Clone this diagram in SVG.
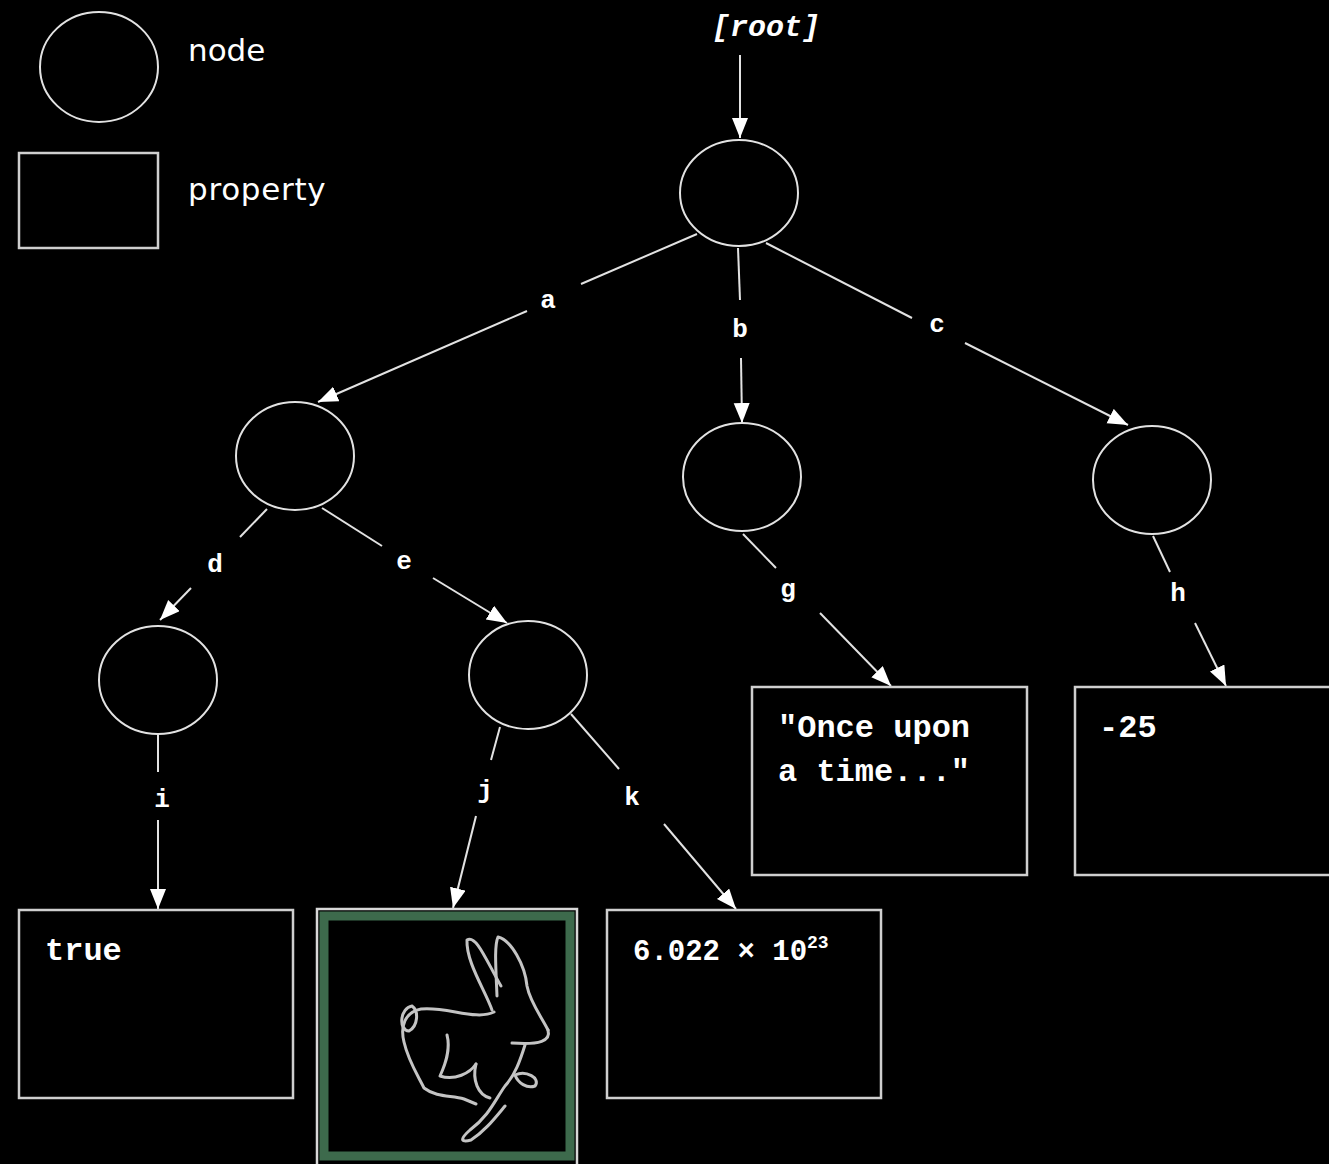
<svg xmlns="http://www.w3.org/2000/svg" width="1329" height="1164" viewBox="0 0 1329 1164">
  <style>
    .node { fill: #000; stroke: #e2e2e2; stroke-width: 2; }
    .prop { fill: #000; stroke: #cfcfcf; stroke-width: 2.5; }
    .edge { fill: none; stroke: #e2e2e2; stroke-width: 2; }
    .legend { font-family: "DejaVu Sans", Verdana, sans-serif; font-size: 31px; fill: #fff; }
    .lbl { font-family: "Liberation Mono", "Courier New", monospace; font-weight: bold; font-size: 26px; fill: #fff; text-anchor: middle; }
    .val { font-family: "Liberation Mono", "Courier New", monospace; font-weight: bold; font-size: 32px; fill: #fff; }
    .rabbit { fill: none; stroke: #c4c4c4; stroke-width: 3; stroke-linecap: round; stroke-linejoin: round; }
  </style>
  <defs>
    <marker id="arrow" markerUnits="userSpaceOnUse" markerWidth="22" markerHeight="18" refX="20" refY="8" orient="auto">
      <path d="M0,0 L20,8 L0,16 z" fill="#fff"/>
    </marker>
  </defs>
  <rect width="1329" height="1164" fill="#000"/>

  <!-- legend -->
  <g id="legend">
    <ellipse class="node" cx="99" cy="67" rx="59" ry="55"/>
    <text class="legend" x="188" y="61">node</text>
    <rect class="prop" x="19" y="153" width="139" height="95"/>
    <text class="legend" x="188" y="200" style="letter-spacing:0.7px">property</text>
  </g>

  <!-- connectors -->
  <g id="connectors">
    <line class="edge" x1="740" y1="55" x2="740" y2="138" marker-end="url(#arrow)"/>
    <!-- a -->
    <line class="edge" x1="697" y1="234" x2="581" y2="284"/>
    <line class="edge" x1="527" y1="311" x2="318" y2="402" marker-end="url(#arrow)"/>
    <text class="lbl" x="548" y="308">a</text>
    <!-- b -->
    <line class="edge" x1="738" y1="248" x2="740" y2="300"/>
    <line class="edge" x1="741" y1="358" x2="742" y2="423" marker-end="url(#arrow)"/>
    <text class="lbl" x="740" y="337">b</text>
    <!-- c -->
    <line class="edge" x1="766" y1="243" x2="912" y2="318"/>
    <line class="edge" x1="965" y1="343" x2="1128" y2="425" marker-end="url(#arrow)"/>
    <text class="lbl" x="937" y="332">c</text>
    <!-- d -->
    <line class="edge" x1="267" y1="509" x2="240" y2="537"/>
    <line class="edge" x1="191" y1="588" x2="160" y2="620" marker-end="url(#arrow)"/>
    <text class="lbl" x="215" y="572">d</text>
    <!-- e -->
    <line class="edge" x1="322" y1="508" x2="382" y2="546"/>
    <line class="edge" x1="433" y1="578" x2="507" y2="623" marker-end="url(#arrow)"/>
    <text class="lbl" x="404" y="569">e</text>
    <!-- g -->
    <line class="edge" x1="743" y1="534" x2="776" y2="568"/>
    <line class="edge" x1="820" y1="613" x2="891" y2="686" marker-end="url(#arrow)"/>
    <text class="lbl" x="788" y="597">g</text>
    <!-- h -->
    <line class="edge" x1="1153" y1="536" x2="1170" y2="572"/>
    <line class="edge" x1="1195" y1="623" x2="1226" y2="686" marker-end="url(#arrow)"/>
    <text class="lbl" x="1178" y="601">h</text>
    <!-- i -->
    <line class="edge" x1="158" y1="735" x2="158" y2="772"/>
    <line class="edge" x1="158" y1="820" x2="158" y2="909" marker-end="url(#arrow)"/>
    <text class="lbl" x="162" y="807">i</text>
    <!-- j -->
    <line class="edge" x1="500" y1="727" x2="491" y2="760"/>
    <line class="edge" x1="476" y1="816" x2="453" y2="908" marker-end="url(#arrow)"/>
    <text class="lbl" x="485" y="798">j</text>
    <!-- k -->
    <line class="edge" x1="571" y1="714" x2="619" y2="769"/>
    <line class="edge" x1="664" y1="824" x2="736" y2="909" marker-end="url(#arrow)"/>
    <text class="lbl" x="632" y="805">k</text>
  </g>

  <text id="root-label" x="766" y="36" text-anchor="middle" font-family="Liberation Mono, 'Courier New', monospace" font-weight="bold" font-style="italic" font-size="30" fill="#fff">[root]</text>

  <!-- nodes -->
  <g id="node-root"><ellipse class="node" cx="739" cy="193" rx="59" ry="53"/></g>
  <g id="node-a"><ellipse class="node" cx="295" cy="456" rx="59" ry="54"/></g>
  <g id="node-b"><ellipse class="node" cx="742" cy="477" rx="59" ry="54"/></g>
  <g id="node-c"><ellipse class="node" cx="1152" cy="480" rx="59" ry="54"/></g>
  <g id="node-d"><ellipse class="node" cx="158" cy="680" rx="59" ry="54"/></g>
  <g id="node-e"><ellipse class="node" cx="528" cy="675" rx="59" ry="54"/></g>

  <!-- properties -->
  <g id="prop-i">
    <rect class="prop" x="19" y="910" width="274" height="188"/>
    <text class="val" x="45" y="960">true</text>
  </g>
  <g id="prop-j">
    <rect x="317" y="909" width="260" height="262" fill="#000" stroke="#d8d8d8" stroke-width="2.5"/>
    <rect x="324" y="916" width="246" height="240" fill="#000" stroke="#3d6a4c" stroke-width="9"/>
    <g class="rabbit">
      <!-- back and hindquarters -->
      <path d="M494 1012 C476 1021 446 1006 421 1009 C405 1012 400 1026 404 1042 C408 1060 417 1074 424 1088 C437 1098 452 1095 464 1099 L476 1104"/>
      <!-- tail -->
      <path d="M412 1006 C400 1008 398 1030 409 1031 C418 1026 419 1011 412 1006"/>
      <!-- ears -->
      <path d="M492 1010 C485 990 466 962 467 940 C476 934 486 960 501 986"/>
      <path d="M497 996 C496 970 494 946 498 937 C511 940 525 965 527 986 C530 1002 541 1016 548 1030"/>
      <!-- head -->
      <path d="M548 1030 C551 1041 540 1045 512 1043"/>
      <!-- front legs and hind foot -->
      <path d="M525 1045 C520 1061 515 1075 505 1086 C495 1100 489 1116 470 1130 C461 1138 459 1143 471 1140 C485 1131 495 1118 505 1106"/>
      <path d="M515 1075 C526 1070 541 1078 535 1086 C527 1089 518 1083 515 1075"/>
      <!-- inner leg -->
      <path d="M447 1035 C451 1050 445 1065 440 1076 C455 1081 470 1073 476 1064"/>
      <path d="M476 1064 C472 1080 478 1095 490 1098"/>
    </g>
  </g>
  <g id="prop-k">
    <rect class="prop" x="607" y="910" width="274" height="188"/>
    <text class="val" x="633" y="960" style="font-size:29px">6.022 × 10<tspan dy="-12" style="font-size:18px">23</tspan></text>
  </g>
  <g id="prop-g">
    <rect class="prop" x="752" y="687" width="275" height="188"/>
    <text class="val" x="778" y="737">"Once upon</text>
    <text class="val" x="778" y="781">a time..."</text>
  </g>
  <g id="prop-h">
    <rect class="prop" x="1075" y="687" width="275" height="188"/>
    <text class="val" x="1099" y="737">-25</text>
  </g>
</svg>
